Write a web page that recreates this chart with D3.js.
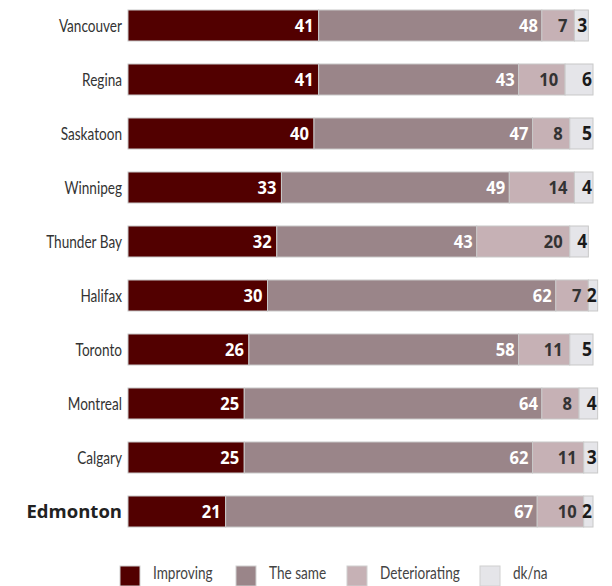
<!DOCTYPE html>
<html>
<head>
<meta charset="utf-8">
<script src="https://cdn.jsdelivr.net/npm/d3@7"></script>
<style>
  html, body { margin: 0; padding: 0; background: #fff; }
  svg { display: block; }
</style>
</head>
<body>
<svg id="chart" width="612" height="586"></svg>
<script>
const cities = ["Vancouver", "Regina", "Saskatoon", "Winnipeg", "Thunder Bay", "Halifax", "Toronto", "Montreal", "Calgary", "Edmonton"];
const improving     = [41, 41, 40, 33, 32, 30, 26, 25, 25, 21];
const theSame       = [48, 43, 47, 49, 43, 62, 58, 64, 62, 67];
const deteriorating = [7, 10, 8, 14, 20, 7, 11, 8, 11, 10];
const dkna          = [3, 6, 5, 4, 4, 2, 5, 4, 3, 2];
const seriesNames = ["Improving", "The same", "Deteriorating", "dk/na"];
const seriesColors = ["#520000", "#9a8589", "#c6b1b5", "#e5e5e9"];
const labelColors = ["#ffffff", "#ffffff", "#333333", "#1a1a1a"];
const labelPad = [5, 4, 7, 1];
const highlight = "Edmonton";

const svg = d3.select("#chart");
const x = d3.scaleLinear().domain([0, 100]).range([128, 593]);
const y = d3.scaleBand().domain(cities).range([10, 527]).paddingInner(0.426).paddingOuter(0);

const rows = cities.map((c, i) => ({ city: c, values: [improving[i], theSame[i], deteriorating[i], dkna[i]] }));

const condensed = "Lato, 'Open Sans', sans-serif";
const squeeze = 0.8;
const boldFont = "'Open Sans', 'Noto Sans', sans-serif";

const g = svg.selectAll("g.row").data(rows).join("g").attr("class", "row");

g.each(function(d) {
  const row = d3.select(this);
  let acc = 0;
  const segs = d.values.map((v, k) => { const s = { k, v, x0: acc, x1: acc + v }; acc += v; return s; });
  const cy = y(d.city) + y.bandwidth() / 2;
  row.selectAll("rect").data(segs).join("rect")
    .attr("x", s => x(s.x0))
    .attr("y", y(d.city))
    .attr("width", s => x(s.x1) - x(s.x0))
    .attr("height", y.bandwidth())
    .attr("fill", s => seriesColors[s.k])
    .attr("stroke", "#c8c8c8")
    .attr("stroke-width", 1);
  row.selectAll("text.val").data(segs).join("text")
    .attr("class", "val")
    .attr("transform", s => `translate(${x(s.x1) - labelPad[s.k]},${cy}) scale(0.92,1)`)
    .attr("dy", "0.36em")
    .attr("text-anchor", "end")
    .attr("font-family", boldFont)
    .attr("font-weight", 700)
    .attr("font-size", s => s.k === 3 ? 19 : 18)
    .attr("fill", s => labelColors[s.k])
    .text(s => s.v);
  const isH = d.city === highlight;
  row.append("text")
    .attr("transform", `translate(122,${cy})` + (isH ? "" : ` scale(${squeeze},1)`))
    .attr("dy", "0.36em")
    .attr("text-anchor", "end")
    .attr("font-family", isH ? boldFont : condensed)
    .attr("font-weight", isH ? 700 : 400)
    .attr("font-size", isH ? 18.5 : 17)
    .attr("fill", isH ? "#222" : "#333")
    .text(d.city);
});

const legendX = [120, 236, 347, 480];
const lg = svg.selectAll("g.leg").data(seriesNames).join("g").attr("class", "leg")
  .attr("transform", (d, i) => `translate(${legendX[i]},566)`);
lg.append("rect").attr("width", 20).attr("height", 20)
  .attr("fill", (d, i) => seriesColors[i]).attr("stroke", "#d0d0d0").attr("stroke-width", 1);
lg.append("text").attr("transform", `translate(33,13) scale(${squeeze},1)`).attr("font-family", condensed)
  .attr("font-size", 17).attr("fill", "#444").text(d => d);
</script>
</body>
</html>
